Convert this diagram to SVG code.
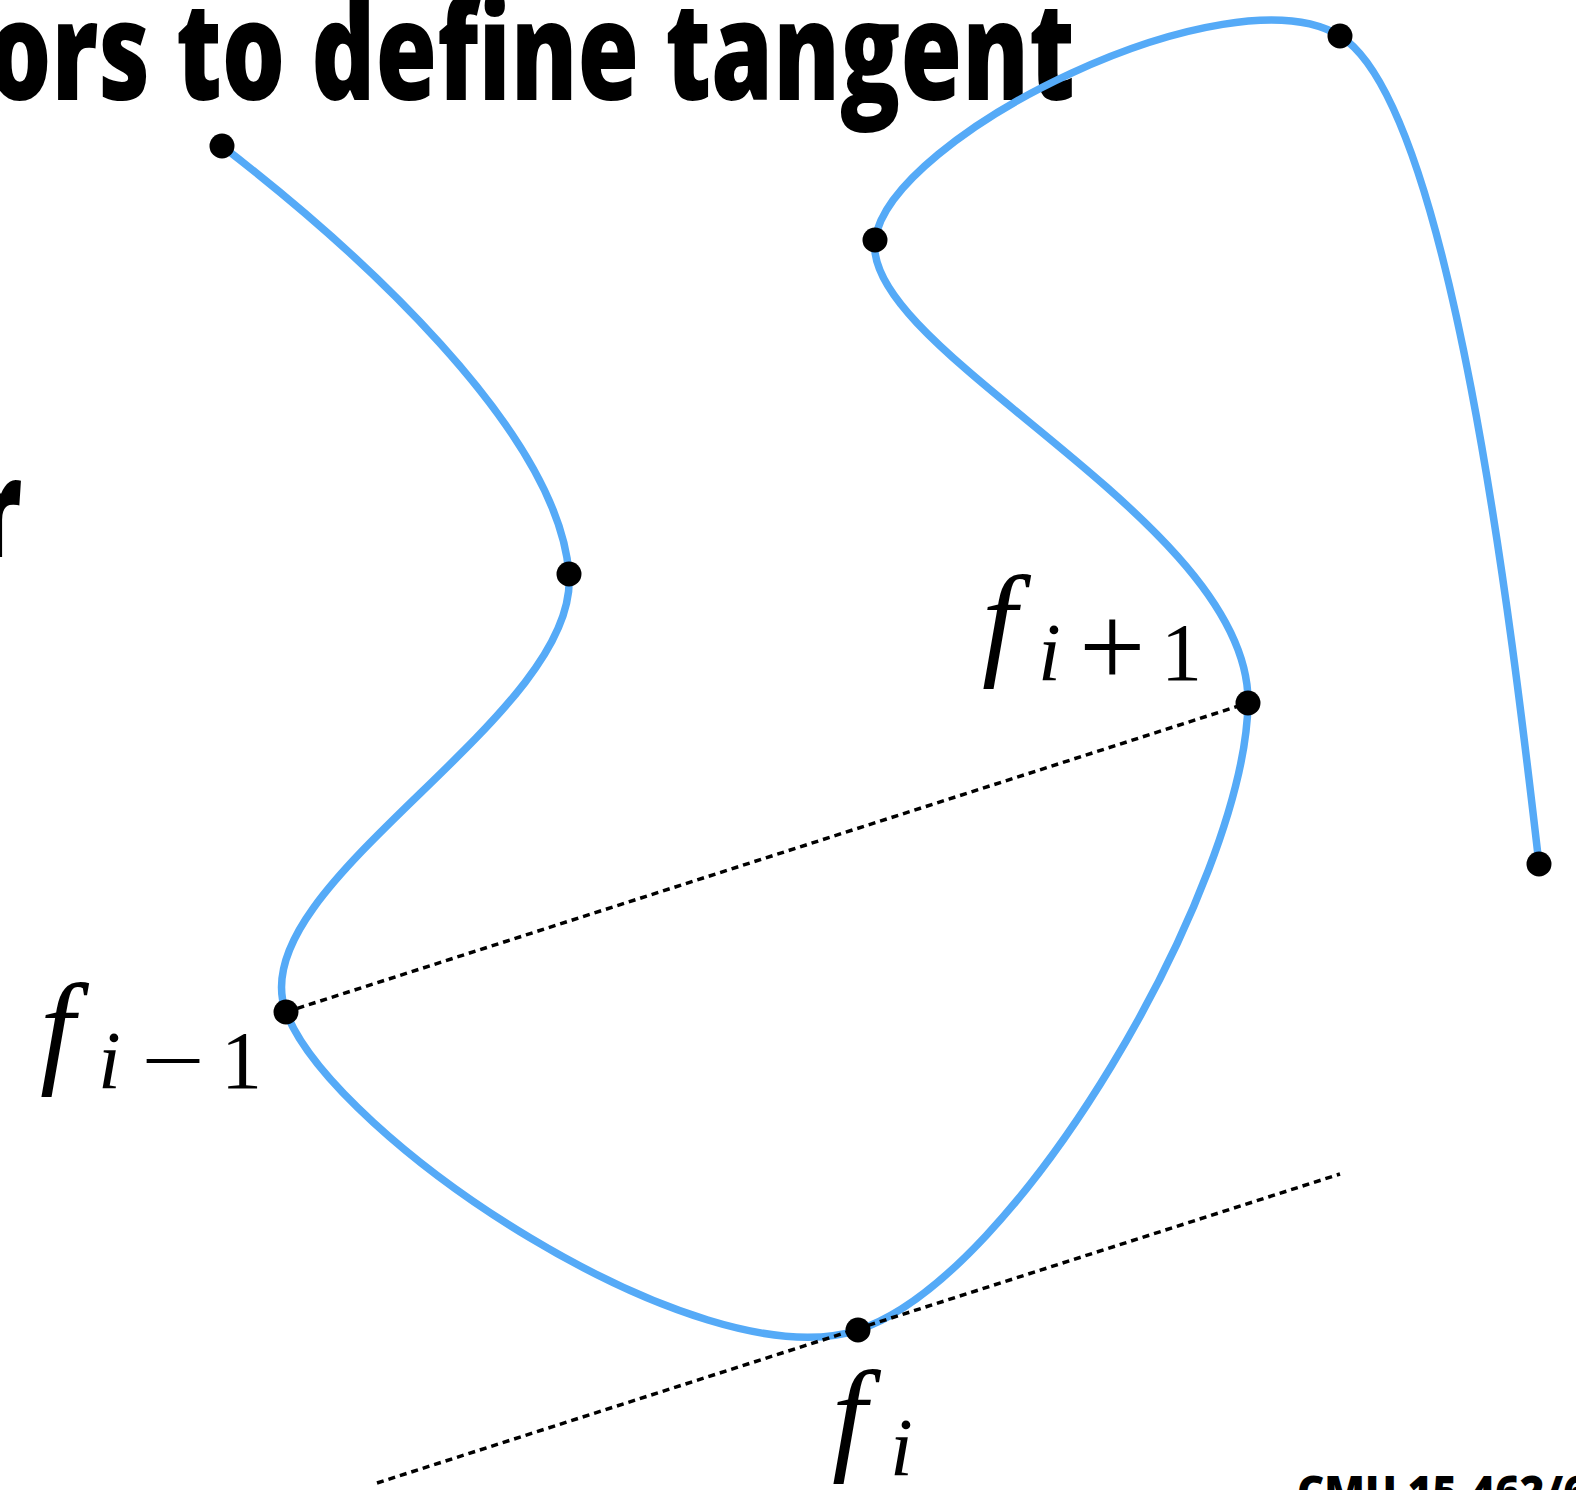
<svg xmlns="http://www.w3.org/2000/svg" width="1576" height="1490" viewBox="0 0 1576 1490">
<style>
.title{font-family:"Open Sans","Liberation Sans",sans-serif;font-weight:800;fill:#000}
.curve{fill:none;stroke:#55aaf7;stroke-width:7.5;stroke-linecap:round;stroke-linejoin:round}
.dash{fill:none;stroke:#000;stroke-width:3.5;stroke-dasharray:7 5}
.pt{fill:#000}
.mi{font-family:"Liberation Serif","DejaVu Serif",serif;font-style:italic;fill:#000}
.mr{font-family:"Liberation Serif","DejaVu Serif",serif;fill:#000}
</style>
<rect width="1576" height="1490" fill="#fff"/>
<g id="title">
<text class="title" x="-12" y="100" font-size="136" textLength="1087" lengthAdjust="spacingAndGlyphs">ors to define tangent</text>
<text class="title" x="-22" y="557" font-size="136" textLength="44" lengthAdjust="spacingAndGlyphs">r</text>
<text class="title" x="1297" y="1508" font-size="44" textLength="340" lengthAdjust="spacingAndGlyphs">CMU 15-462/662</text>
</g>
<g id="connectors">
<path id="spline" class="curve" d="M222,146 C352,246 558,430 569,574 C580,718 238,886 286,1012 C334,1138 698,1382 858,1330 C1018,1278 1245,885 1248,703 C1251,521 860,351 875,240 C890,135 1229,-32 1340,36 C1451,104 1512,630 1539,864"/>
<line id="chord" class="dash" x1="286" y1="1012" x2="1248" y2="703"/>
<line id="tangent" class="dash" x1="377" y1="1483" x2="1340" y2="1174"/>
</g>
<g id="p0"><circle class="pt" cx="222" cy="146" r="12.5"/></g>
<g id="p1"><circle class="pt" cx="569" cy="574" r="12.5"/></g>
<g id="p2"><circle class="pt" cx="286" cy="1012" r="12.5"/>
<text class="mi" x="40" y="1070" font-size="125">f</text>
<text class="mi" x="98" y="1088" font-size="82">i</text>
<text class="mr" x="141" y="1088" font-size="82" textLength="64" lengthAdjust="spacingAndGlyphs">−</text>
<text class="mr" x="221" y="1088" font-size="82">1</text>
</g>
<g id="p3"><circle class="pt" cx="858" cy="1330" r="12.5"/>
<text class="mi" x="832" y="1457" font-size="125">f</text>
<text class="mi" x="890" y="1475" font-size="82">i</text>
</g>
<g id="p4"><circle class="pt" cx="1248" cy="703" r="12.5"/>
<text class="mi" x="982" y="662" font-size="125">f</text>
<text class="mi" x="1038" y="680" font-size="82">i</text>
<text class="mr" x="1079" y="687" font-size="118">+</text>
<text class="mr" x="1161" y="680" font-size="82">1</text>
</g>
<g id="p5"><circle class="pt" cx="875" cy="240" r="12.5"/></g>
<g id="p6"><circle class="pt" cx="1340" cy="36" r="12.5"/></g>
<g id="p7"><circle class="pt" cx="1539" cy="864" r="12.5"/></g>
</svg>
